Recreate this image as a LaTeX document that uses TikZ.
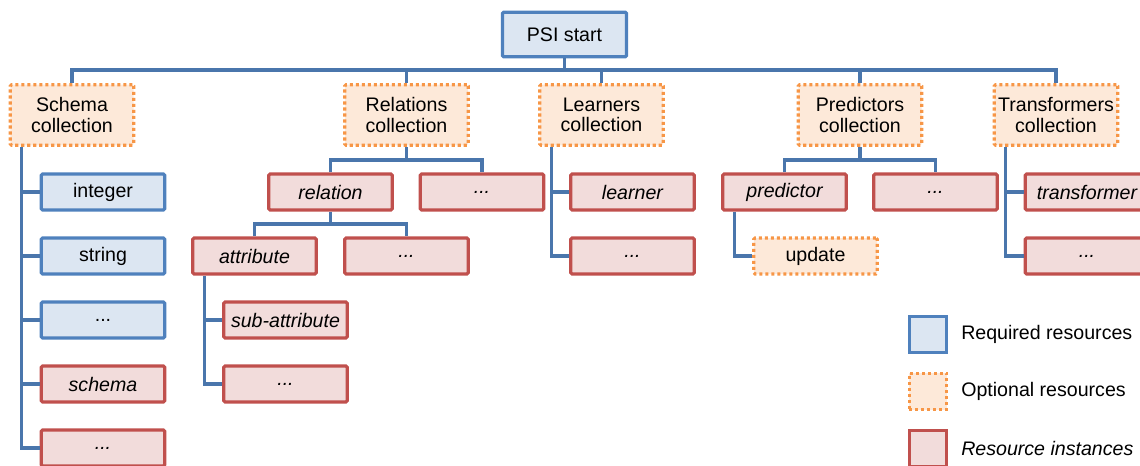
\documentclass[tikz,border=0pt]{standalone}
\usepackage{fontspec}
\setmainfont{Liberation Sans}
\usetikzlibrary{positioning}
\definecolor{reqline}{HTML}{4F81BD}
\definecolor{reqfill}{HTML}{DCE6F2}
\definecolor{optline}{HTML}{F79646}
\definecolor{optfill}{HTML}{FDE9D9}
\definecolor{instline}{HTML}{C0504D}
\definecolor{instfill}{HTML}{F2DCDB}
\definecolor{wire}{HTML}{4A76AC}
\newcommand\boxfont{\fontsize{14.7}{15.5}\selectfont}
\tikzset{
  res/.style     = {line width=2.4pt, rounded corners=1pt, minimum width=92.5pt,
                    minimum height=27pt, align=center, inner sep=0pt},
  reqbox/.style  = {res, draw=reqline, fill=reqfill},
  optbox/.style  = {res, draw=optline, fill=optfill, dash pattern=on 2.3pt off 2.2pt},
  instbox/.style = {res, draw=instline, fill=instfill, font=\boxfont\itshape},
  colbox/.style  = {optbox, minimum height=45.5pt},
  link/.style    = {draw=wire, line width=2.5pt},
  keybox/.style  = {line width=2.4pt, minimum width=28pt, minimum height=27.5pt, inner sep=0pt},
  keytext/.style = {anchor=west, inner sep=0pt},
}
\begin{document}
\begin{tikzpicture}[x=0.75pt,y=-0.75pt,font=\boxfont]
\useasboundingbox (0,0) rectangle (1140,465);
% root and collections
\node[reqbox,minimum width=93pt,minimum height=33.5pt] (psi) at (564.5,34.5) {PSI start};
\node[colbox] (schemacol) at (72,115)    {Schema\\collection};
\node[colbox] (relcol)    at (406.5,115) {Relations\\collection};
\node[colbox] (learncol)  at (601.5,115) {Learners\\collection};
\node[colbox] (predcol)   at (860,115)   {Predictors\\collection};
\node[colbox] (transcol)  at (1056,115)  {Transformers\\collection};
\coordinate (bus) at (564.5,70);
\draw[link] (psi) -- (psi |- bus);
\draw[link] (schemacol.north) -- (schemacol |- bus) -- (transcol |- bus) -- (transcol.north);
\foreach \c in {relcol,learncol,predcol}
  \draw[link] (\c.north) -- (\c |- bus);

% schema collection
\node[reqbox]  (sint)   at (103,192) {integer};
\node[reqbox]  (sstr)   at (103,256) {string};
\node[reqbox]  (sdots)  at (103,320) {...};
\node[instbox] (schema) at (103,384) {schema};
\node[instbox] (sidots) at (103,448) {...};
\coordinate (strunk) at ([xshift=9.75pt]schemacol.south west);
\draw[link] (strunk) |- (sidots.west);
\foreach \c in {sint,sstr,sdots,schema}
  \draw[link] (strunk |- \c) -- (\c.west);

% relations collection
\node[instbox] (relation) at (330.5,192) {relation};
\node[instbox] (reldots)  at (482,192)   {...};
\coordinate (relbus) at (0,160);
\draw[link] (relcol.south) -- (relcol |- relbus);
\draw[link] (relation.north) -- (relation |- relbus) -- (reldots |- relbus) -- (reldots.north);
\node[instbox] (attr)     at (254.5,256) {attribute};
\node[instbox] (attrdots) at (406.5,256) {...};
\coordinate (attrbus) at (0,224);
\draw[link] (relation.south) -- (relation |- attrbus);
\draw[link] (attr.north) -- (attr |- attrbus) -- (attrdots |- attrbus) -- (attrdots.north);
\node[instbox] (subattr) at (285.5,320) {sub-attribute};
\node[instbox] (subdots) at (285.5,384) {...};
\coordinate (atrunk) at ([xshift=9.75pt]attr.south west);
\draw[link] (atrunk) |- (subdots.west);
\draw[link] (atrunk |- subattr) -- (subattr.west);

% learners collection
\node[instbox] (learner)   at (632.5,192) {learner};
\node[instbox] (learndots) at (632.5,256) {...};
\coordinate (ltrunk) at ([xshift=9.75pt]learncol.south west);
\draw[link] (ltrunk) |- (learndots.west);
\draw[link] (ltrunk |- learner) -- (learner.west);

% predictors collection
\node[instbox] (predictor) at (784.5,192) {predictor};
\node[instbox] (preddots)  at (935.5,192) {...};
\draw[link] (predcol.south) -- (predcol |- relbus);
\draw[link] (predictor.north) -- (predictor |- relbus) -- (preddots |- relbus) -- (preddots.north);
\node[optbox] (update) at (815.5,256) {update};
\draw[link] ([xshift=9.75pt]predictor.south west) |- (update.west);

% transformers collection
\node[instbox] (transformer) at (1087,192) {transformer};
\node[instbox] (transdots)   at (1087,256) {...};
\coordinate (ttrunk) at ([xshift=9.75pt]transcol.south west);
\draw[link] (ttrunk) |- (transdots.west);
\draw[link] (ttrunk |- transformer) -- (transformer.west);

% legend
\node[keybox,draw=reqline,fill=reqfill] (keyreq) at (928,334.5) {};
\node[keybox,draw=optline,fill=optfill,dash pattern=on 2.3pt off 2.2pt] (keyopt) at (928,391.5) {};
\node[keybox,draw=instline,fill=instfill] (keyinst) at (928,448.5) {};
\node[keytext] (reqtext)  at (961,334.5) {Required resources};
\node[keytext] (opttext)  at (961,391.5) {Optional resources};
\node[keytext,font=\boxfont\itshape] (insttext) at (961,448.5) {Resource instances};
\end{tikzpicture}
\end{document}
